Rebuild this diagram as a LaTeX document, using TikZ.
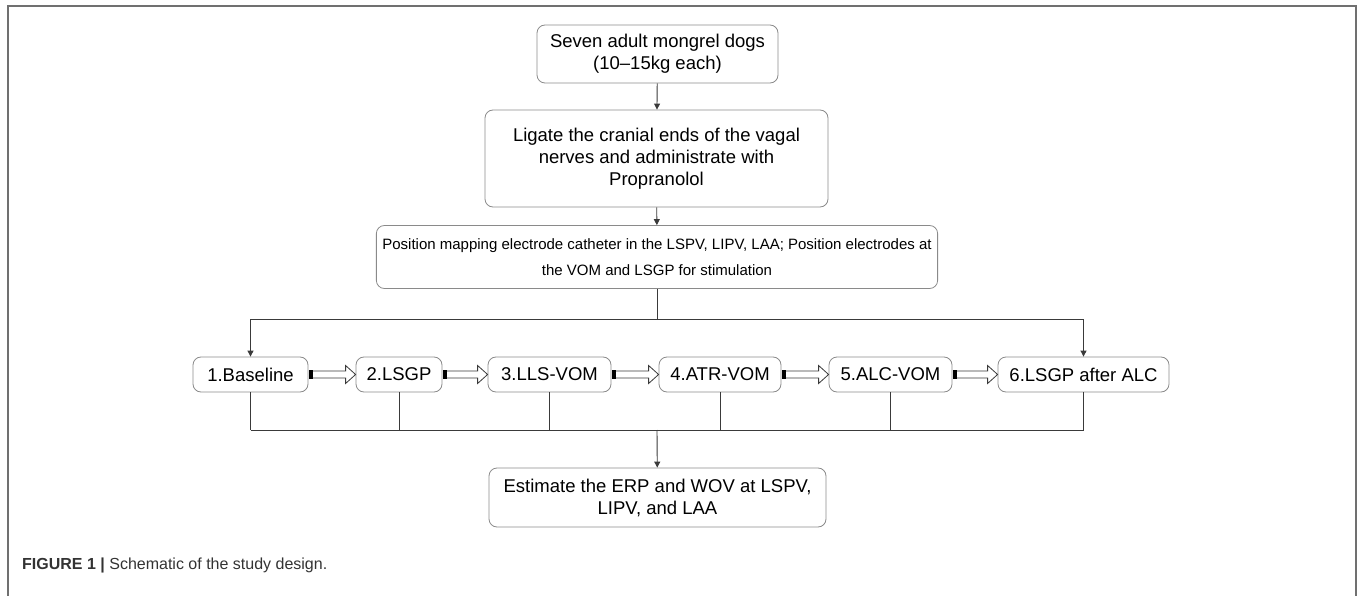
\documentclass[tikz,border=0pt]{standalone}
\usepackage{fontspec}
\setmainfont{Liberation Sans}
\usetikzlibrary{calc,arrows.meta}
\definecolor{boxgray}{HTML}{8A8A8A}
\definecolor{linegray}{HTML}{3A3A3A}
\definecolor{framegray}{HTML}{707070}
\definecolor{capgray}{HTML}{333333}
\newcommand\hollowarr[2]{%
  \fill[black] ($(#1.east)+(1,-4.5)$) rectangle ($(#1.east)+(4.5,4.5)$);
  \draw[linegray, line width=0.8pt, line join=miter]
    ($(#1.east)+(4.5,-3.5)$) -- ($(#2.west)+(-10,-3.5)$) -- ($(#2.west)+(-10,-9)$)
    -- (#2.west) -- ($(#2.west)+(-10,9)$) -- ($(#2.west)+(-10,3.5)$) -- ($(#1.east)+(4.5,3.5)$);}
\begin{document}
\begin{tikzpicture}[x=1pt,y=-1pt,
  box/.style={draw=boxgray, rounded corners=8pt, line width=0.8pt, align=center,
    font=\fontsize{18.5}{22}\selectfont, inner sep=0pt},
  conn/.style={draw=linegray, line width=0.9pt},
  arr/.style={conn, -{Triangle[length=6pt,width=6pt]}}]
\useasboundingbox (0,0) rectangle (1358,596);
\draw[framegray, line width=1.5pt] (8,596) -- (8,6) -- (1356,6) -- (1356,596);

\node[box, minimum width=241, minimum height=58] (dogs) at (657.5,54)
  {Seven adult mongrel dogs\\(10--15kg each)};
\node[box, minimum width=343, minimum height=97] (ligate) at (656.5,158.5)
  {Ligate the cranial ends of the vagal\\nerves and administrate with\\Propranolol};
\node[box, minimum height=63, inner xsep=6pt,
      font=\fontsize{15}{26}\selectfont] (pos) at (657,257)
  {Position mapping electrode catheter in the LSPV, LIPV, LAA; Position electrodes at\\the VOM and LSGP for stimulation};

\node[box, minimum width=115, minimum height=35] (s1) at (250.5,374.5) {1.Baseline};
\node[box, minimum width=86, minimum height=35] (s2) at (399,374.5) {2.LSGP};
\node[box, minimum width=123, minimum height=35] (s3) at (549.5,374.5) {3.LLS-VOM};
\node[box, minimum width=122, minimum height=35] (s4) at (720,374.5) {4.ATR-VOM};
\node[box, minimum width=123, minimum height=35] (s5) at (890.5,374.5) {5.ALC-VOM};
\node[box, minimum width=171, minimum height=35] (s6) at (1083.5,374.5) {6.LSGP after ALC};

\node[box, minimum width=337, minimum height=59] (est) at (657.5,497.5)
  {Estimate the ERP and WOV at LSPV,\\LIPV, and LAA};

\draw[arr] (dogs) -- (ligate);
\draw[arr] (ligate) -- (pos);
\coordinate (split) at (657,319);
\draw[conn] (pos.south) -- (split);
\draw[arr] (split) -| (s1.north);
\draw[arr] (split) -| (s6.north);

\hollowarr{s1}{s2}
\hollowarr{s2}{s3}
\hollowarr{s3}{s4}
\hollowarr{s4}{s5}
\hollowarr{s5}{s6}

\coordinate (join) at (657,430);
\foreach \s in {s1,s2,s3,s4,s5,s6}{\draw[conn] (\s.south) -- (\s.south |- join);}
\draw[conn] (s1.south |- join) -- (s6.south |- join);
\draw[arr] (join) -- (est);

\node[anchor=west, font=\fontsize{16}{19}\selectfont, text=capgray, inner sep=0pt] (cap) at (22,565)
  {\textbf{FIGURE 1 |} Schematic of the study design.};
\end{tikzpicture}
\end{document}
